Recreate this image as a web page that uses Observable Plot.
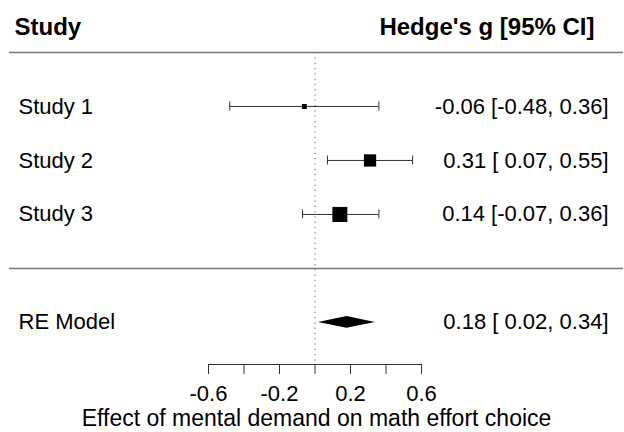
<!DOCTYPE html>
<html><head><meta charset="utf-8">
<script src="https://cdn.jsdelivr.net/npm/d3@7"></script>
<script src="https://cdn.jsdelivr.net/npm/@observablehq/plot@0.6"></script>
<style>body{margin:0;background:#fff} svg{display:block}</style>
</head><body><div id="chart"></div>
<script>
// ---- data ----
const studies = ["Study 1", "Study 2", "Study 3"];
const estimates = [-0.06, 0.31, 0.14];
const lowers = [-0.48, 0.07, -0.07];
const uppers = [0.36, 0.55, 0.36];
const weights = [12.7, 38.8, 48.5];
const rows = [3, 2, 1];
const modelLabel = "RE Model";
const modelEst = 0.18, modelLo = 0.02, modelHi = 0.34;
const modelRow = -1;
const headerLeft = "Study";
const headerRight = "Hedge's g [95% CI]";
const xTicks = [-0.6, -0.4, -0.2, 0, 0.2, 0.4, 0.6];
const xTickLabels = [-0.6, -0.2, 0.2, 0.6];
const xLabel = "Effect of mental demand on math effort choice";
const headerRow = 4, separatorRow = 0, axisRow = -1.78;

// ---- build ----
const fmt = v => v.toFixed(2);
const padded = v => (v >= 0 ? " " : "") + v.toFixed(2);
const capHalf = 0.083, diaHalf = 0.11;
const studyData = studies.map((s, i) => ({
  label: s, est: estimates[i], lo: lowers[i], hi: uppers[i], w: weights[i], row: rows[i],
  text: `${fmt(estimates[i])} [${padded(lowers[i])}, ${fmt(uppers[i])}]`
}));
const modelText = `${fmt(modelEst)} [${padded(modelLo)}, ${fmt(modelHi)}]`;
const diamond = [
  {x: modelLo, y1: modelRow, y2: modelRow},
  {x: modelEst, y1: modelRow - diaHalf, y2: modelRow + diaHalf},
  {x: modelHi, y1: modelRow, y2: modelRow}
];
const caps = studyData.flatMap(d => [{x: d.lo, row: d.row}, {x: d.hi, row: d.row}]);

const chart = Plot.plot({
  width: 624, height: 432,
  marginLeft: 9, marginRight: 1, marginTop: 52, marginBottom: 68,
  style: {fontFamily: "'Liberation Sans', Arial, Helvetica, sans-serif", fontSize: "22px", color: "#000", background: "#fff"},
  x: {domain: [-0.6, 0.6], range: [208, 421], label: null},
  y: {domain: [axisRow, headerRow], axis: null, label: null},
  r: {type: "linear", domain: d3.extent(weights), range: [2.82, 8.46]},
  marks: [
    Plot.ruleY([headerRow, separatorRow], {stroke: "#777", strokeWidth: 1.5}),
    Plot.ruleX([0], {stroke: "#666", strokeDasharray: "1.3,4"}),
    Plot.ruleY([axisRow], {x1: xTicks[0], x2: xTicks[xTicks.length - 1], stroke: "#333"}),
    Plot.axisX({ticks: xTicks, tickSize: 10, tickPadding: 11, label: null, stroke: "#333", fill: "#000",
      tickFormat: d => xTickLabels.includes(d) ? d.toFixed(1) : ""}),
    Plot.ruleY(studyData, {y: "row", x1: "lo", x2: "hi", stroke: "#333"}),
    Plot.ruleX(caps, {x: "x", y1: d => d.row - capHalf, y2: d => d.row + capHalf, stroke: "#333"}),
    Plot.dot(studyData, {x: "est", y: "row", r: "w", symbol: "square", fill: "#000", stroke: null}),
    Plot.areaY(diamond, {x: "x", y1: "y1", y2: "y2", fill: "#000"}),
    Plot.text(studyData, {y: "row", text: "label", frameAnchor: "left", textAnchor: "start", lineAnchor: "middle", dx: 9, fill: "#000"}),
    Plot.text(studyData, {y: "row", text: "text", frameAnchor: "right", textAnchor: "end", lineAnchor: "middle", dx: -15, fill: "#000"}),
    Plot.text([modelLabel], {y: modelRow, text: d => d, frameAnchor: "left", textAnchor: "start", lineAnchor: "middle", dx: 9, fill: "#000"}),
    Plot.text([modelText], {y: modelRow, text: d => d, frameAnchor: "right", textAnchor: "end", lineAnchor: "middle", dx: -15, fill: "#000"}),
    Plot.text([headerLeft], {text: d => d, frameAnchor: "top-left", textAnchor: "start", lineAnchor: "middle", dx: 5, dy: -25, fontSize: 24, fontWeight: "bold", fill: "#000"}),
    Plot.text([headerRight], {text: d => d, frameAnchor: "top-right", textAnchor: "end", lineAnchor: "middle", dx: -29, dy: -25, fontSize: 24, fontWeight: "bold", fill: "#000"}),
    Plot.text([xLabel], {text: d => d, frameAnchor: "bottom", textAnchor: "middle", lineAnchor: "middle", dy: 54, fontSize: 23, fill: "#000"})
  ]
});
document.getElementById("chart").appendChild(chart);
</script>
</body></html>
